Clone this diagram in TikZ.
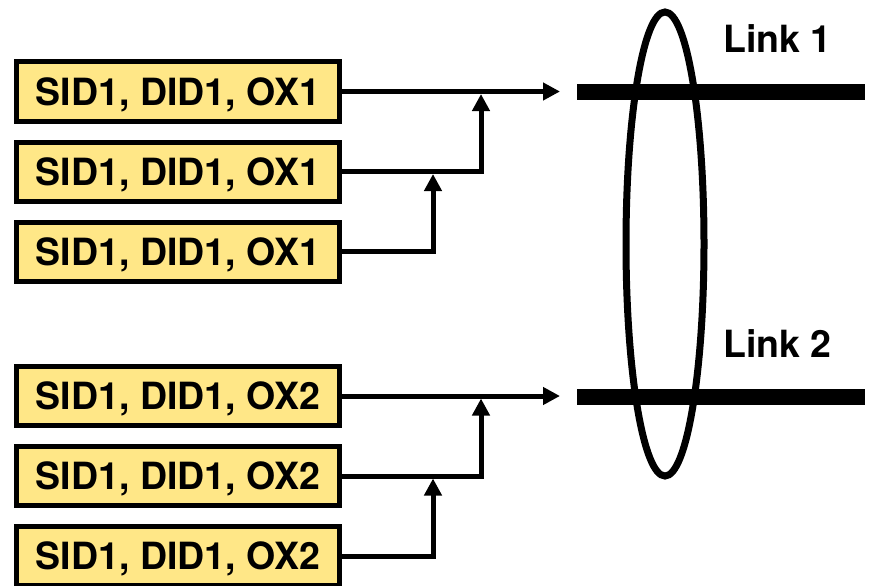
\documentclass[tikz,border=0pt]{standalone}
\usepackage{fontspec}
\setmainfont{TeX Gyre Heros}
\usetikzlibrary{arrows.meta,shadows}
\definecolor{boxfill}{RGB}{255,231,135}

\begin{document}
\begin{tikzpicture}[x=1pt,y=-1pt,>={Triangle[length=17pt,width=17pt]},line join=miter,
  idbox/.style={draw,line width=5pt,fill=boxfill,minimum width=323pt,minimum height=59pt,
    inner sep=0pt,text depth=0pt,font=\fontsize{37.5}{40}\selectfont\bfseries,
    drop shadow={shadow xshift=1.5pt,shadow yshift=-1.5pt,fill=black!40}},
  flow/.style={line width=5pt},
  linkbar/.style={line width=16pt},
  linklabel/.style={anchor=base west,inner sep=0pt,font=\fontsize{37.5}{40}\selectfont\bfseries}]
\useasboundingbox (0,0) rectangle (870,586);
% first flow
\node[idbox] (a1) at (178,91.5) {SID1, DID1, OX1};
\node[idbox] (a2) at (178,171.5) {SID1, DID1, OX1};
\node[idbox] (a3) at (178,251.5) {SID1, DID1, OX1};
\coordinate (ta) at (560,91.5);
\coordinate (ja1) at (481,94);
\coordinate (ja2) at (433,174);
\draw[flow,->] (a1.east) -- (ta);
\draw[flow,->] (a2.east) -| (ja1);
\draw[flow,->] (a3.east) -| (ja2);
% second flow
\node[idbox] (b1) at (178,396) {SID1, DID1, OX2};
\node[idbox] (b2) at (178,476) {SID1, DID1, OX2};
\node[idbox] (b3) at (178,556) {SID1, DID1, OX2};
\coordinate (tb) at (560,396);
\coordinate (jb1) at (481,398.5);
\coordinate (jb2) at (433,478.5);
\draw[flow,->] (b1.east) -- (tb);
\draw[flow,->] (b2.east) -| (jb1);
\draw[flow,->] (b3.east) -| (jb2);
% links
\coordinate (l1w) at (577,92);
\coordinate (l1e) at (865,92);
\coordinate (l2w) at (577,397);
\coordinate (l2e) at (865,397);
\draw[linkbar] (l1w) -- (l1e);
\draw[linkbar] (l2w) -- (l2e);
\node[linklabel] (n1) at (723,53) {Link 1};
\node[linklabel] (n2) at (723,357) {Link 2};
\draw[line width=7pt] (665,244) ellipse [x radius=39pt,y radius=232pt];
\end{tikzpicture}
\end{document}
